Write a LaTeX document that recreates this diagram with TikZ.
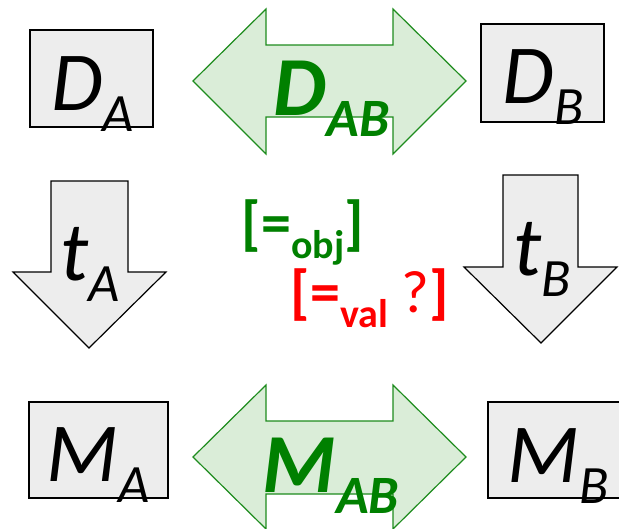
\documentclass[tikz,border=0pt]{standalone}
\usepackage{fontspec}
\setmainfont{Carlito}
\usetikzlibrary{positioning}
\definecolor{relgreen}{HTML}{008000}
\definecolor{arrgreen}{HTML}{1E8C1E}
\definecolor{arrfill}{HTML}{DAEDD8}
\definecolor{boxgray}{HTML}{EDEDED}
\newcommand{\bigfs}{\fontsize{84}{90}\selectfont}
\newcommand{\subfs}{\fontsize{54}{60}\selectfont}
\newcommand{\midfs}{\fontsize{60}{66}\selectfont}
\newcommand{\smfs}{\fontsize{40}{44}\selectfont}
\newcommand{\withsub}[2]{#1\raisebox{-21pt}{\subfs #2}}

\begin{document}
\begin{tikzpicture}[x=1pt, y=-1pt,
    modelbox/.style={draw, line width=1.5pt, fill=boxgray, inner sep=0pt},
    lbl/.style={anchor=base, inner sep=0pt, font=\bigfs\itshape},
    rellbl/.style={anchor=base, inner sep=0pt, font=\bigfs\bfseries\itshape, text=relgreen},
    eqlbl/.style={anchor=base, inner sep=0pt, font=\midfs\bfseries},
    dblarrow/.style={draw=arrgreen, line width=1.2pt, fill=arrfill},
    downarrow/.style={draw, line width=1.2pt, fill=boxgray}]
      \useasboundingbox (0,0) rectangle (619,528);
      % Boxes
      \node[modelbox, minimum width=123pt, minimum height=97pt] (dA) at (91.5,78.5) {};
      \node[modelbox, minimum width=123pt, minimum height=98pt] (dB) at (542.5,73) {};
      \node[modelbox, minimum width=139pt, minimum height=96pt] (mA) at (98.5,450) {};
      \node[modelbox, minimum width=132pt, minimum height=96pt] (mB) at (554,450) {};
      % Double arrows
      \draw[dblarrow] (193,81) -- (266,9) -- (266,45) -- (393,45) -- (393,9)
        -- (466,81) -- (393,154) -- (393,117) -- (266,117) -- (266,154) -- cycle;
      \draw[dblarrow] (193,457) -- (266,385) -- (266,421) -- (393,421) -- (393,385)
        -- (466,457) -- (393,529) -- (393,494) -- (266,494) -- (266,529) -- cycle;
      % Down arrows
      \draw[downarrow] (51,181) -- (128,181) -- (128,272) -- (166,272)
        -- (89,348) -- (13,272) -- (51,272) -- cycle;
      \draw[downarrow] (503,175) -- (578,175) -- (578,267) -- (617,267)
        -- (541,343) -- (464,267) -- (503,267) -- cycle;
      % Labels
      \node[lbl] (dA-l) at (92.5,110) {\withsub{D}{A}};
      \node[lbl] (dB-l) at (543.5,103) {\withsub{D}{B}};
      \node[lbl] (mA-l) at (98.5,481) {\withsub{M}{A}};
      \node[lbl] (mB-l) at (558.5,482) {\withsub{M}{B}};
      \node[lbl] (tA-l) at (90,280) {\withsub{t}{A}};
      \node[lbl] (tB-l) at (542.5,275) {\withsub{t}{B}};
      \node[rellbl] (dAB-l) at (331.5,115) {\withsub{D}{AB}};
      \node[rellbl] (mAB-l) at (331,492) {\withsub{M}{AB}};
      % Equality kinds
      \node[eqlbl, text=relgreen] (objeq) at (303,243) {[=\raisebox{-15pt}{\smfs obj}]};
      \node[eqlbl, text=red] (valeq) at (370,312) {[=\raisebox{-15pt}{\smfs val} {\mdseries ?}]};
    \end{tikzpicture}
\end{document}
